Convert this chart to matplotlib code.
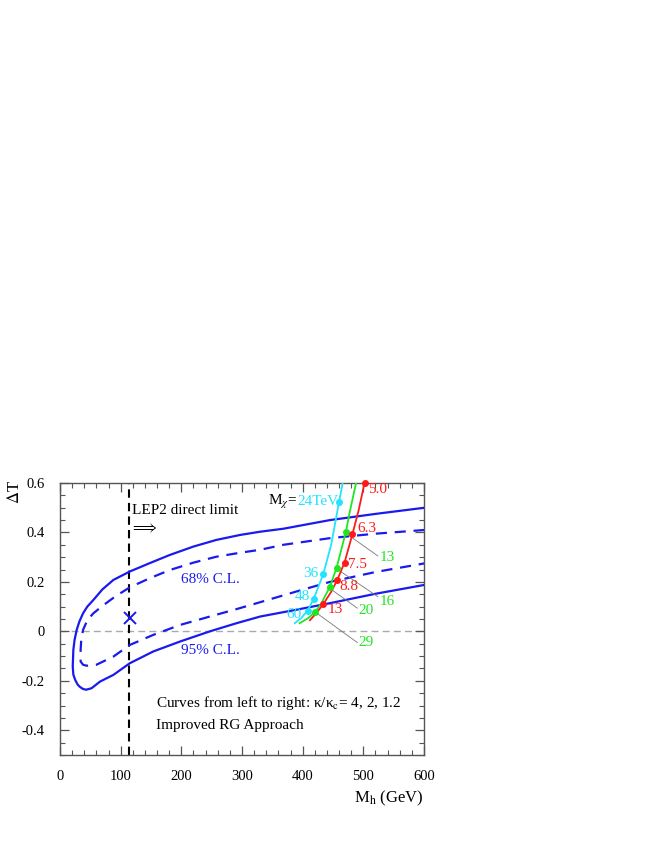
import numpy as np
import matplotlib
matplotlib.use("Agg")
import matplotlib.pyplot as plt
from matplotlib.ticker import MultipleLocator

plt.rcParams["font.family"] = ["Liberation Serif", "DejaVu Serif"]
plt.rcParams["mathtext.fontset"] = "stix"

# 95% C.L. contour (upper branch right->left, then lower branch left->right)
cl95_x = [601, 520, 445, 368, 330, 297, 258, 220, 181, 148, 115, 88, 70, 55, 45, 38, 32, 27.5,
          24, 22, 21, 22, 25, 29, 33, 38, 43, 52, 66, 88, 115, 154, 198, 247, 291, 330, 395,
          445, 520, 601]
cl95_y = [0.50, 0.475, 0.45, 0.415, 0.403, 0.39, 0.37, 0.343, 0.309, 0.276, 0.242, 0.208,
          0.17, 0.127, 0.10, 0.073, 0.04, 0.006, -0.035, -0.075, -0.142, -0.175, -0.196,
          -0.215, -0.225, -0.233, -0.236, -0.23, -0.203, -0.176, -0.129, -0.081, -0.041, 0.0,
          0.033, 0.06, 0.09, 0.114, 0.152, 0.188]

# 68% C.L. contour
cl68_x = [601, 520, 445, 368, 330, 297, 258, 220, 181, 148, 115, 91, 70, 55, 45, 38, 35, 34,
          34, 38, 44, 60, 88, 115, 154, 198, 247, 291, 330, 395, 445, 520, 601]
cl68_y = [0.41, 0.395, 0.377, 0.35, 0.33, 0.318, 0.302, 0.278, 0.248, 0.215, 0.178, 0.141,
          0.103, 0.073, 0.045, 0.006, -0.035, -0.075, -0.122, -0.135, -0.139, -0.135, -0.102,
          -0.055, -0.014, 0.026, 0.06, 0.09, 0.118, 0.165, 0.2, 0.24, 0.275]

# kappa/kappa_c curves
cyan_x = [387, 398, 408, 418, 434, 447, 460, 466]
cyan_y = [0.033, 0.055, 0.083, 0.13, 0.232, 0.35, 0.524, 0.60]
green_x = [395, 410, 421, 431, 445, 456, 471, 478, 488]
green_y = [0.033, 0.055, 0.08, 0.114, 0.181, 0.258, 0.40, 0.487, 0.60]
red_x = [412, 423, 434, 447, 457, 469, 482, 492, 502]
red_y = [0.045, 0.075, 0.11, 0.16, 0.208, 0.278, 0.393, 0.487, 0.60]

# M_chi marker points and labels (TeV)
cyan_pts_x = [408, 418, 434, 460]
cyan_pts_y = [0.083, 0.13, 0.232, 0.524]
cyan_lbls = ["60", "48", "36"]
green_pts_x = [421, 445, 456, 471]
green_pts_y = [0.08, 0.181, 0.258, 0.40]
green_lbls = ["29", "20", "16", "13"]
red_pts_x = [434, 457, 469, 482, 502]
red_pts_y = [0.11, 0.208, 0.278, 0.393, 0.60]
red_lbls = ["13", "8.8", "7.5", "6.3", "5.0"]

fit_x, fit_y = 115, 0.053
lep2_limit = 114.4

BLUE = "#1a1aee"
CYAN = "#22e4ff"
GREEN = "#1fe61f"
RED = "#ff1a1a"

fig = plt.figure(figsize=(6.54, 8.46), dpi=100)
ax = fig.add_axes([60 / 654, 91 / 846, 364 / 654, 272 / 846])

ax.axhline(0, color="#aaaaaa", lw=1.0, ls=(0, (5, 3)), zorder=1)
ax.axvline(lep2_limit, color="black", lw=1.5, ls=(0, (4, 2.5)), zorder=2)

ax.plot(cl95_x, cl95_y, color=BLUE, lw=1.6, zorder=3)
ax.plot(cl68_x, cl68_y, color=BLUE, lw=1.6, ls=(0, (5, 3.5)), zorder=3)
ax.plot(fit_x, fit_y, marker="x", color=BLUE, ms=8, mew=1.4, zorder=4)

ax.plot(cyan_x, cyan_y, color=CYAN, lw=1.3, zorder=5)
ax.plot(green_x, green_y, color=GREEN, lw=1.3, zorder=5)
ax.plot(red_x, red_y, color=RED, lw=1.3, zorder=5)
ax.plot(cyan_pts_x, cyan_pts_y, "o", color=CYAN, ms=4, zorder=6, clip_on=False)
ax.plot(green_pts_x, green_pts_y, "o", color=GREEN, ms=4, zorder=6, clip_on=False)
ax.plot(red_pts_x, red_pts_y, "o", color=RED, ms=4, zorder=6, clip_on=False)

# leader lines for green labels
leaders = [((479, 0.383), (524, 0.305)), ((459, 0.248), (524, 0.14)),
           ((448, 0.168), (490, 0.094)), ((423, 0.074), (490, -0.045))]
for (x0, y0), (x1, y1) in leaders:
    ax.plot([x0, x1], [y0, y1], color="#777777", lw=0.6, zorder=4)

fs = 11
for x, y, t in zip([398, 412, 426], [0.07, 0.14, 0.236], cyan_lbls):
    ax.text(x, y, t, color=CYAN, fontsize=fs, ha="right", va="center")
for x, y, t in zip([492, 492, 527, 527], [-0.045, 0.084, 0.12, 0.30], green_lbls):
    ax.text(x, y, t, color=GREEN, fontsize=fs, ha="left", va="center")
for x, y, t in zip([442, 461, 475, 490, 508], [0.09, 0.181, 0.27, 0.418, 0.572], red_lbls):
    ax.text(x, y, t, color=RED, fontsize=fs, ha="left", va="center")

ax.text(343, 0.525, r"M$_\chi$=", color="black", fontsize=fs, ha="left", va="center")
ax.text(392, 0.525, "24TeV", color=CYAN, fontsize=fs, ha="left", va="center")

ax.text(119, 0.487, "LEP2 direct limit", fontsize=fs, ha="left", va="center")
ax.text(116, 0.418, r"$\Longrightarrow$", fontsize=11, ha="left", va="center")
ax.text(248, 0.21, "68% C.L.", color=BLUE, fontsize=fs, ha="center", va="center")
ax.text(248, -0.077, "95% C.L.", color=BLUE, fontsize=fs, ha="center", va="center")
ax.text(158, -0.29, "Curves from left to right: κ/κ$_{\\rm c}$= 4, 2, 1.2",
        fontsize=fs, ha="left", va="center")
ax.text(158, -0.38, "Improved RG Approach", fontsize=fs, ha="left", va="center")

ax.set_xlim(0, 600)
ax.set_ylim(-0.5, 0.6)
ax.xaxis.set_minor_locator(MultipleLocator(20))
ax.yaxis.set_minor_locator(MultipleLocator(0.05))
ax.set_xticks([0, 100, 200, 300, 400, 500, 600])
ax.set_xticklabels(["0", "100", "200", "300", "400", "500", "600"])
ax.set_yticks([-0.4, -0.2, 0, 0.2, 0.4, 0.6])
ax.set_yticklabels(["-0.4", "-0.2", "0", "0.2", "0.4", "0.6"])
ax.tick_params(which="both", direction="in", top=True, right=True, color="#555555",
               labelsize=10.5)
ax.tick_params(axis="x", which="both", pad=11)
ax.tick_params(axis="y", which="both", pad=11)
ax.tick_params(which="major", length=6.5, width=0.9)
ax.tick_params(which="minor", length=3.5, width=0.8)
for s in ax.spines.values():
    s.set_color("#555555")
    s.set_linewidth(1.0)

ax.set_xlabel(r"M$_{\rm h}$ (GeV)", fontsize=12, loc="right", labelpad=4)
fig.text(15 / 654, 1 - 492 / 846, r"$\Delta$T", rotation=90, fontsize=12,
         ha="center", va="center")

fig.savefig("out.png", dpi=100)
